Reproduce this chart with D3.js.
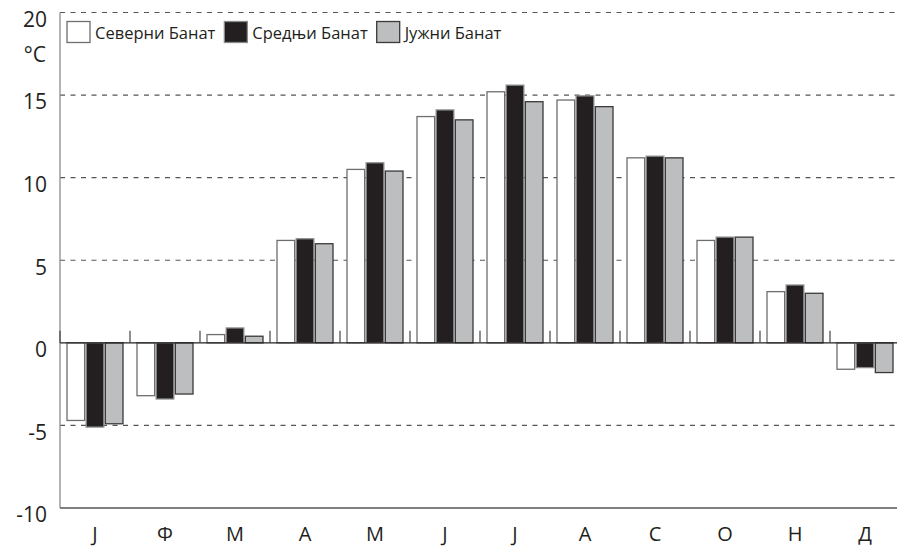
<!DOCTYPE html>
<html>
<head>
<meta charset="utf-8">
<script src="https://cdn.jsdelivr.net/npm/d3@7"></script>
<style>
  body { margin: 0; background: #fff; }
  text { font-family: "Open Sans", "DejaVu Sans", sans-serif; fill: #231f20; }
</style>
</head>
<body>
<div class="graphic"></div>
<script>
const months = ["Ј", "Ф", "М", "А", "М", "Ј", "Ј", "А", "С", "О", "Н", "Д"];
const seriesNames = ["Северни Банат", "Средњи Банат", "Јужни Банат"];
const north = [-4.7, -3.2, 0.5, 6.2, 10.5, 13.7, 15.2, 14.7, 11.2, 6.2, 3.1, -1.6];
const middle = [-5.1, -3.4, 0.9, 6.3, 10.9, 14.1, 15.6, 14.95, 11.3, 6.4, 3.5, -1.5];
const south = [-4.9, -3.1, 0.4, 6.0, 10.4, 13.5, 14.6, 14.3, 11.2, 6.4, 3.0, -1.8];
const yTicks = [-10, -5, 0, 5, 10, 15, 20];

const fills = ["#ffffff", "#231f20", "#bcbec0"];
const strokes = ["#6e6e6e", "#8a8a8a", "#3a3a3a"];

const w_svg = 897, h_svg = 546;
const plotLeft = 60, plotRight = 900, plotTop = 12.5, plotBottom = 508;

var svg = d3.select(".graphic")
  .append("svg")
  .attr("width", w_svg)
  .attr("height", h_svg);

var x = d3.scaleBand()
  .domain(d3.range(months.length))
  .range([plotLeft, plotRight])
  .paddingInner(0);

var xs = d3.scaleBand()
  .domain(d3.range(3))
  .range([7, x.bandwidth() - 7])
  .paddingInner(0.08);

var y = d3.scaleLinear()
  .domain([-10, 20])
  .range([plotBottom, plotTop]);

// dashed grid
svg.append("g")
  .selectAll("line")
  .data(yTicks.filter(d => d !== 0 && d !== -10))
  .enter()
  .append("line")
  .attr("x1", plotLeft)
  .attr("x2", w_svg)
  .attr("y1", d => y(d))
  .attr("y2", d => y(d))
  .attr("stroke", "#555")
  .attr("stroke-width", 1.2)
  .attr("stroke-dasharray", "5,5.5");

// y axis labels (plain hyphen for negatives, like the original)
var yAxis = d3.axisLeft(y)
  .tickValues(yTicks)
  .tickSize(0)
  .tickPadding(13)
  .tickFormat(d => String(d));

var gy = svg.append("g")
  .attr("transform", "translate(" + plotLeft + ",0)")
  .call(yAxis);
gy.select(".domain").remove();
gy.selectAll(".tick text")
  .attr("y", 0)
  .attr("dy", "0.66em")
  .attr("fill", "#231f20")
  .style("font-size", "21px")
  .style("font-family", "'Open Sans', sans-serif");

svg.append("text")
  .attr("x", 46)
  .attr("y", 62)
  .attr("text-anchor", "end")
  .style("font-size", "21px")
  .text("°C");

// left axis line
svg.append("line")
  .attr("x1", plotLeft).attr("x2", plotLeft)
  .attr("y1", plotTop).attr("y2", plotBottom)
  .attr("stroke", "#8c8c8c")
  .attr("stroke-width", 1.3);

// bottom axis line
svg.append("line")
  .attr("x1", plotLeft).attr("x2", w_svg)
  .attr("y1", plotBottom).attr("y2", plotBottom)
  .attr("stroke", "#555")
  .attr("stroke-width", 1.6);

// bars
const data = [north, middle, south];
data.forEach((vals, s) => {
  svg.append("g")
    .selectAll("rect")
    .data(vals)
    .enter()
    .append("rect")
    .attr("x", (d, i) => x(i) + xs(s))
    .attr("width", xs.bandwidth())
    .attr("y", d => Math.min(y(d), y(0)))
    .attr("height", d => Math.abs(y(d) - y(0)))
    .attr("fill", fills[s])
    .attr("stroke", strokes[s])
    .attr("stroke-width", 1.3);
});

// zero line and month ticks
svg.append("line")
  .attr("x1", plotLeft).attr("x2", w_svg)
  .attr("y1", y(0)).attr("y2", y(0))
  .attr("stroke", "#231f20")
  .attr("stroke-width", 1.3);

svg.append("g")
  .selectAll("line")
  .data(d3.range(months.length))
  .enter()
  .append("line")
  .attr("x1", d => x(d)).attr("x2", d => x(d))
  .attr("y1", y(0) - 12).attr("y2", y(0))
  .attr("stroke", "#444")
  .attr("stroke-width", 1.2);

// month labels
svg.append("g")
  .selectAll("text")
  .data(months)
  .enter()
  .append("text")
  .attr("x", (d, i) => x(i) + x.bandwidth() / 2)
  .attr("y", 541)
  .attr("text-anchor", "middle")
  .style("font-size", "20px")
  .text(d => d);

// legend
var legend = svg.append("g");
var lx = 67;
seriesNames.forEach((name, s) => {
  legend.append("rect")
    .attr("x", lx).attr("y", 21.5)
    .attr("width", 23).attr("height", 21)
    .attr("fill", fills[s])
    .attr("stroke", strokes[s])
    .attr("stroke-width", 1.3);
  var t = legend.append("text")
    .attr("x", lx + 28)
    .attr("y", 39)
    .style("font-size", "16.5px")
    .text(name);
  lx += 28 + t.node().getComputedTextLength() + 9;
});
</script>
</body>
</html>
